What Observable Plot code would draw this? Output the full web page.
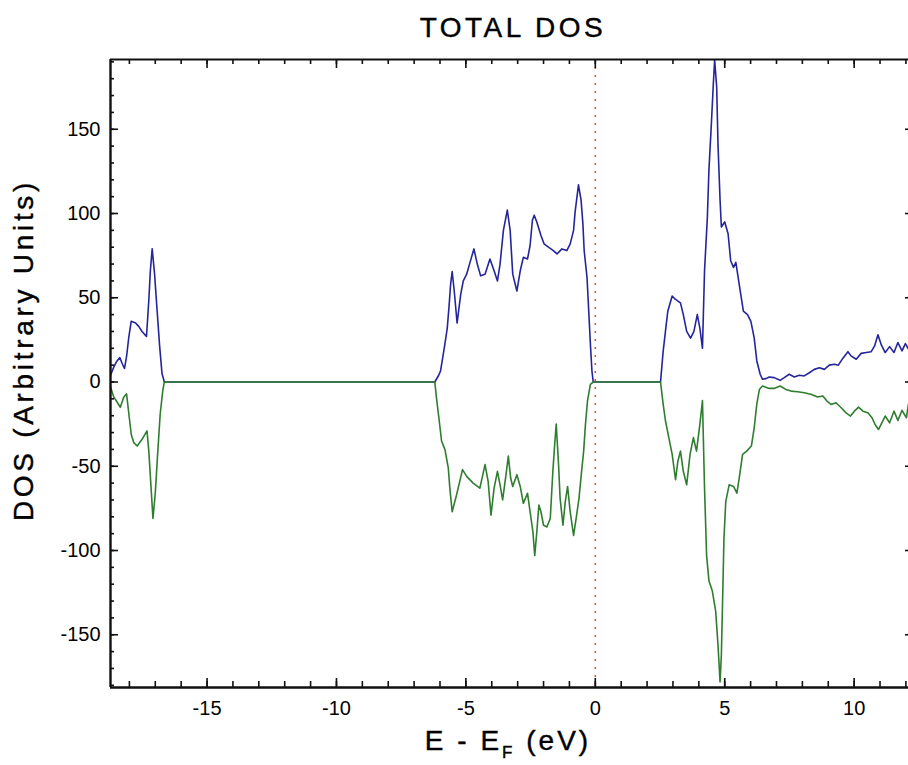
<!DOCTYPE html>
<html>
<head>
<meta charset="utf-8">
<script src="https://cdn.jsdelivr.net/npm/d3@7"></script>
<script src="https://cdn.jsdelivr.net/npm/@observablehq/plot@0.6"></script>
<style>
  body { margin: 0; background: #fff; }
  #chart svg { display: block; }
</style>
</head>
<body>
<div id="chart"></div>
<script>
// ---- data ----
const titleText = "TOTAL DOS";
const yLabelText = "DOS (Arbitrary Units)";
const xLabelMain = "E - E";
const xLabelSub = "F";
const xLabelTail = " (eV)";

// spin-up (blue, positive)
const upEnergy = [
  -18.73, -18.6, -18.5, -18.37, -18.28, -18.19, -18.11, -18.02, -17.93, -17.76, -17.64, -17.51, -17.34, -17.25, -17.19, -17.12, -17.03, -16.93, -16.83, -16.74, -16.65,
  -6.2, -6.05, -5.98, -5.81, -5.72, -5.65, -5.59, -5.53, -5.45, -5.34, -5.2, -5.1, -4.97, -4.84, -4.69, -4.56, -4.43, -4.26, -4.07, -3.91, -3.78, -3.68, -3.55, -3.4, -3.29, -3.19, -3.03, -2.9, -2.78, -2.62, -2.52, -2.43, -2.36, -2.26, -2.1, -1.98, -1.81, -1.62, -1.48, -1.29, -1.1, -0.97, -0.84, -0.78, -0.65, -0.55, -0.48, -0.43, -0.32, -0.26, -0.19, -0.13, -0.08,
  2.52, 2.62, 2.71, 2.8, 2.97, 3.1, 3.29, 3.4, 3.53, 3.68, 3.81, 3.94, 4.04, 4.14, 4.22, 4.33, 4.39, 4.48, 4.56, 4.61, 4.69, 4.74, 4.82, 4.87, 5.0, 5.13, 5.23, 5.34, 5.43, 5.52, 5.62, 5.72, 5.88, 6.01, 6.14, 6.24, 6.37, 6.46, 6.59, 6.72, 6.91, 7.14, 7.3, 7.49, 7.69, 7.88, 8.07, 8.27, 8.46, 8.66, 8.85, 9.04, 9.24, 9.39, 9.56, 9.76, 9.88, 10.08, 10.27, 10.47, 10.66, 10.79, 10.92, 11.05, 11.2, 11.37, 11.54, 11.69, 11.85, 11.98, 12.1
];
const upDos = [
  4, 9, 12, 14.5, 11, 8, 15, 27, 36, 35, 33, 30, 27, 48.5, 66, 79, 64.6, 42.6, 21, 5, 0,
  0, 4, 6.5, 22.6, 32, 45, 58, 65.6, 54, 35, 52, 60, 64, 71, 79, 70, 63, 64, 73, 66, 60, 70, 90, 102, 90, 64, 54, 66, 74, 73, 81, 96, 99, 95, 87, 82, 80, 78, 76, 79, 78, 82, 90, 101, 117, 108, 94, 78, 62, 44, 22.6, 6.5, 0,
  0, 18, 30, 42, 51, 49, 47, 40, 30, 26, 30, 40, 32, 20, 66, 98, 126, 152, 177, 191, 175, 141, 108, 92, 95, 88, 72, 68, 71, 62, 52, 42, 40, 36, 26, 12.5, 4.6, 1.6, 2, 3, 2.6, 1, 2.6, 4.6, 3, 4, 3.6, 5.5, 7.5, 8.5, 7.5, 10, 10.5, 10, 14, 18, 15.5, 13.5, 17, 17.5, 18, 21.4, 28, 22, 17.5, 21, 17.5, 23.4, 18.5, 22.8, 19.6
];

// spin-down (green, negative)
const downEnergy = [
  -18.73, -18.6, -18.47, -18.35, -18.22, -18.11, -18.02, -17.93, -17.83, -17.7, -17.51, -17.32, -17.25, -17.19, -17.09, -17.0, -16.91, -16.81, -16.71, -16.65,
  -6.2, -6.14, -6.03, -5.94, -5.81, -5.68, -5.62, -5.53, -5.36, -5.13, -4.97, -4.72, -4.46, -4.26, -4.14, -4.03, -3.91, -3.78, -3.68, -3.58, -3.45, -3.36, -3.27, -3.19, -3.03, -2.9, -2.78, -2.62, -2.52, -2.41, -2.34, -2.26, -2.18, -2.1, -2.0, -1.87, -1.74, -1.64, -1.56, -1.51, -1.42, -1.36, -1.25, -1.16, -1.07, -0.97, -0.84, -0.74, -0.63, -0.53, -0.45, -0.38, -0.3, -0.19, -0.08,
  2.52, 2.62, 2.71, 2.84, 2.97, 3.1, 3.19, 3.29, 3.4, 3.53, 3.66, 3.79, 3.91, 4.04, 4.14, 4.22, 4.3, 4.39, 4.52, 4.65, 4.74, 4.82, 4.87, 4.92, 4.97, 5.04, 5.17, 5.34, 5.47, 5.56, 5.69, 5.85, 6.03, 6.14, 6.24, 6.34, 6.46, 6.72, 6.91, 7.14, 7.36, 7.56, 7.82, 8.07, 8.33, 8.59, 8.79, 8.95, 9.11, 9.3, 9.5, 9.69, 9.86, 10.01, 10.17, 10.34, 10.53, 10.69, 10.81, 10.94, 11.07, 11.2, 11.37, 11.54, 11.69, 11.85, 12.02, 12.1
];
const downDos = [
  -3, -9, -12, -15, -9, -7, -19, -31, -36, -38, -34, -29, -41, -56, -81, -66, -43, -19, -5, 0,
  0, -9, -23, -35, -40, -51, -63, -77, -67, -52, -56, -60, -63, -49, -59, -79, -63, -53, -61, -70, -55, -44, -57, -62, -55, -62, -72, -66, -77, -89, -103, -89, -73, -77, -85, -86, -81, -53, -35, -25, -49, -69, -85, -71, -62, -77, -91, -81, -69, -53, -41, -25, -11, -1.4, 0,
  0, -13, -23, -33, -43, -58, -47, -41, -53, -61, -43, -33, -41, -25, -11, -63, -103, -118, -124, -136, -156, -178, -162, -128, -93, -71, -61, -62, -66, -57, -43, -41, -38, -27, -13, -4.4, -2.4, -3.8, -3.8, -2.4, -4.4, -5.4, -5.8, -6.4, -7.3, -8.9, -8.3, -11.3, -13.3, -12.3, -15.3, -18.3, -20.2, -17.3, -14.9, -17.3, -18.3, -21.2, -25.2, -28.2, -24.2, -20.2, -24.2, -17.3, -22.8, -16.8, -21.2, -13
];

// tick values
const xMinorTicks = d3.range(-18, 13, 1);
const xMajorTicks = [-15, -10, -5, 0, 5, 10];
const yMinorTicks = d3.range(-180, 191, 10);
const yMajorTicks = [-150, -100, -50, 0, 50, 100, 150];
const fermiLevel = [0];

// ---- build tables ----
const upTable = upEnergy.map((e, i) => ({e, v: upDos[i]}));
const downTable = downEnergy.map((e, i) => ({e, v: downDos[i]}));

const xDomain = [-18.73, 12.1];
const yDomain = [-181.3, 191.4];
const axisColor = "#111";

const plot = Plot.plot({
  width: 908,
  height: 765,
  marginLeft: 110,
  marginRight: 0,
  marginTop: 59,
  marginBottom: 78,
  x: {domain: xDomain},
  y: {domain: yDomain},
  style: {
    fontFamily: "'Liberation Sans', Arial, sans-serif",
    fontSize: "20px",
    color: "#000",
    background: "#fff",
    overflow: "visible"
  },
  marks: [
    Plot.ruleX(fermiLevel, {stroke: "#ff3b3b", strokeWidth: 1.5, strokeDasharray: "2,6"}),
    Plot.line(upTable, {x: "e", y: "v", stroke: "#25259b", strokeWidth: 1.6}),
    Plot.line(downTable, {x: "e", y: "v", stroke: "#2f7d2f", strokeWidth: 1.6}),
    // frame (left, bottom, top)
    Plot.ruleX([xDomain[0]], {stroke: axisColor, strokeWidth: 2.4}),
    Plot.ruleY([yDomain[0]], {stroke: axisColor, strokeWidth: 2.4}),
    Plot.ruleY([yDomain[1]], {stroke: axisColor, strokeWidth: 2}),
    // bottom ticks (inward)
    Plot.axisX({anchor: "bottom", ticks: xMinorTicks, tickSize: -6, strokeWidth: 1.6, stroke: axisColor, text: null, label: null}),
    Plot.axisX({anchor: "bottom", ticks: xMajorTicks, tickSize: -9, strokeWidth: 1.6, stroke: axisColor, text: null, label: null}),
    Plot.axisX({anchor: "bottom", ticks: xMajorTicks, tickSize: 0, tickPadding: 13, tickFormat: d => d, label: null}),
    // top ticks (inward)
    Plot.axisX({anchor: "top", ticks: xMinorTicks, tickSize: -4, strokeWidth: 1.6, stroke: axisColor, text: null, label: null}),
    Plot.axisX({anchor: "top", ticks: xMajorTicks, tickSize: -8, strokeWidth: 1.6, stroke: axisColor, text: null, label: null}),
    // left ticks (inward)
    Plot.axisY({anchor: "left", ticks: yMinorTicks, tickSize: -4, strokeWidth: 1.6, stroke: axisColor, text: null, label: null}),
    Plot.axisY({anchor: "left", ticks: yMajorTicks, tickSize: -8, strokeWidth: 1.6, stroke: axisColor, text: null, label: null}),
    Plot.axisY({anchor: "left", ticks: yMajorTicks, tickSize: 0, tickPadding: 10, tickFormat: d => d, label: null}),
    // right ticks (major only, inward)
    Plot.axisY({anchor: "right", ticks: yMajorTicks, tickSize: -4, strokeWidth: 1.6, stroke: axisColor, text: null, label: null})
  ]
});

document.getElementById("chart").appendChild(plot);

// ---- titles ----
const svg = d3.select(plot);
const labelFont = "'Liberation Sans', Arial, sans-serif";

svg.append("text")
  .attr("x", 513).attr("y", 37)
  .attr("text-anchor", "middle")
  .style("font-family", labelFont).style("font-size", "28px")
  .style("letter-spacing", "3.5px").attr("fill", "#000")
  .attr("stroke", "#000").attr("stroke-width", 0.4)
  .text(titleText);

svg.append("text")
  .attr("transform", "translate(33,350) rotate(-90)")
  .attr("text-anchor", "middle")
  .style("font-family", labelFont).style("font-size", "28px")
  .style("letter-spacing", "3.7px").attr("fill", "#000")
  .attr("stroke", "#000").attr("stroke-width", 0.4)
  .text(yLabelText);

const xl = svg.append("text")
  .attr("x", 508).attr("y", 750)
  .attr("text-anchor", "middle")
  .style("font-family", labelFont).style("font-size", "28px")
  .style("letter-spacing", "3px").attr("fill", "#000")
  .attr("stroke", "#000").attr("stroke-width", 0.4);
xl.append("tspan").text(xLabelMain);
xl.append("tspan").attr("dy", 8).style("font-size", "17px").text(xLabelSub);
xl.append("tspan").attr("dy", -8).text(xLabelTail);
</script>
</body>
</html>
